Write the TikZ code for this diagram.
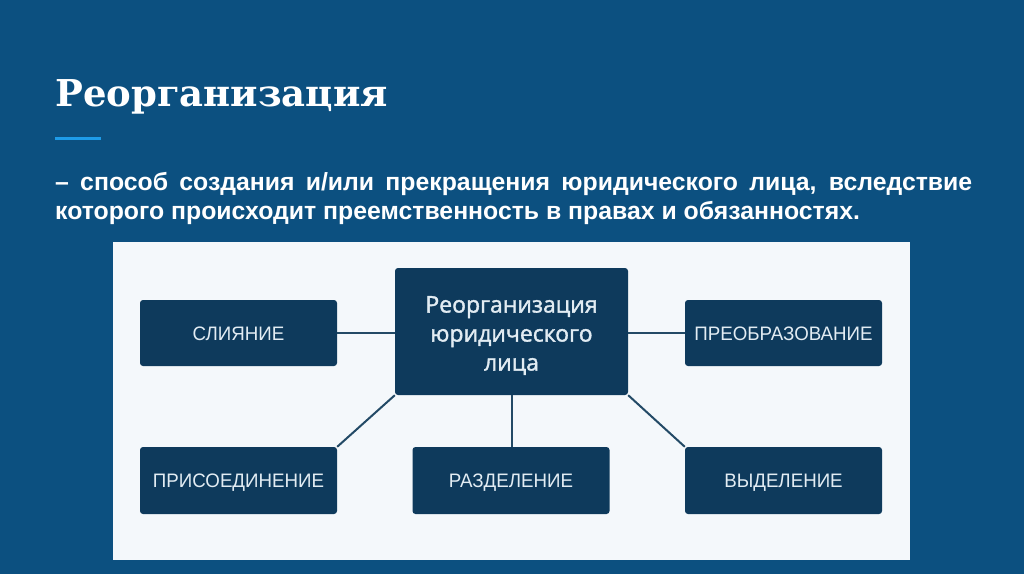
\documentclass[tikz,border=0pt]{standalone}
\usepackage{fontspec}
\setmainfont{Liberation Sans}
\newfontfamily\titlefont{DejaVu Serif}
\newfontfamily\bodyfont{Liberation Sans}
\newfontfamily\boxfont[FakeStretch=0.96]{Liberation Sans}
\newfontfamily\centerfont[FakeBold=1.5]{Open Sans}
\definecolor{bgc}{HTML}{0C5080}
\definecolor{panelc}{HTML}{F4F8FB}
\definecolor{boxc}{HTML}{0E3A5C}
\definecolor{boxtext}{HTML}{E2ECF3}
\definecolor{accentc}{HTML}{1E9BE8}
\definecolor{connc}{HTML}{234A66}
\tikzset{
  box/.style={fill=boxc, rounded corners=3pt, minimum width=197pt, minimum height=66pt,
    inner sep=0pt, text=boxtext, text height=14pt, text depth=0pt,
    font=\boxfont\fontsize{19.5}{21}\selectfont},
  centerbox/.style={fill=boxc, rounded corners=3pt, minimum width=233pt, minimum height=127pt,
    inner sep=0pt},
  centertext/.style={inner sep=0pt, align=center, text=boxtext,
    font=\centerfont\fontsize{23}{29}\selectfont},
  conn/.style={draw=connc, line width=2pt}
}
\begin{document}
\begin{tikzpicture}[x=1pt,y=-1pt]
\useasboundingbox (0,0) rectangle (1024,574);
\fill[bgc] (0,0) rectangle (1024,574);
\node[anchor=base west, inner sep=0pt, text=white,
  font=\titlefont\bfseries\fontsize{37}{40}\selectfont] (title) at (55,106) {Реорганизация};
\draw[accentc, line width=3pt] (55,138) -- (101,138);
\node[anchor=north west, inner sep=0pt, text=white, text width=917pt, align=justify,
  font=\bodyfont\bfseries\fontsize{24.8}{29}\selectfont] (body) at (55,172)
  {– способ создания и/или прекращения юридического лица, вследствие\linebreak которого происходит преемственность в правах и обязанностях.};
\fill[panelc] (113,242) rectangle (910,560);
\node[centerbox] (c) at (511.5,331.5) {};
\node[centertext] (ctext) at ([yshift=-4pt]c.center) {Реорганизация\\юридического\\лица};
\node[box] (sl) at (238.5,333) {СЛИЯНИЕ};
\node[box] (pr) at (783.5,333) {ПРЕОБРАЗОВАНИЕ};
\node[box, minimum height=67pt] (pris) at (238.5,480.5) {ПРИСОЕДИНЕНИЕ};
\node[box, minimum height=67pt] (raz) at (511,480.5) {РАЗДЕЛЕНИЕ};
\node[box, minimum height=67pt] (vyd) at (783.5,480.5) {ВЫДЕЛЕНИЕ};
\draw[conn] (sl.east) -- (sl.east -| c.west);
\draw[conn] (pr.west) -- (pr.west -| c.east);
\draw[conn] (c.south west) -- (pris.north east);
\draw[conn] (c.south) -- (c.south |- raz.north);
\draw[conn] (c.south east) -- (vyd.north west);
\end{tikzpicture}
\end{document}
